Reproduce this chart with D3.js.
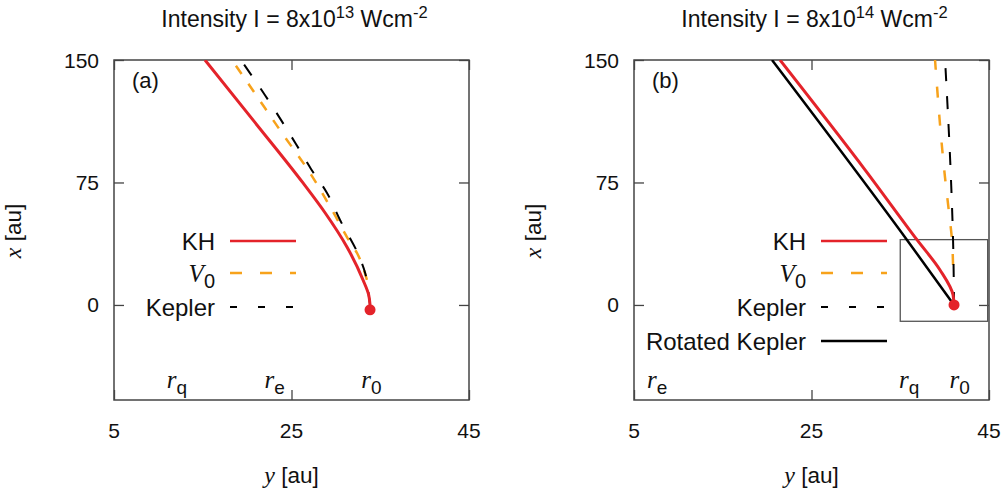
<!DOCTYPE html>
<html>
<head>
<meta charset="utf-8">
<script src="https://cdn.jsdelivr.net/npm/d3@7"></script>
<style>
  html, body { margin: 0; padding: 0; background: #fff; }
  svg { display: block; font-family: "Liberation Sans", Arial, sans-serif; }
</style>
</head>
<body>
<svg id="chart" width="1008" height="493"></svg>
<script>
// Axis ticks
const yTicks = [5, 25, 45];      // horizontal axis, y [au]
const xTicks = [0, 75, 150];     // vertical axis, x [au]

// Panel titles (exponents of intensity)
const titleExp = ["13", "14"];
const panelTags = ["(a)", "(b)"];

// Panel (a): I = 8x10^13 W/cm^2 — trajectories as (y, x) pairs in au
const khA_y  = [15.25, 20.7, 26.3, 28.8, 31.25, 33.06, 33.7, 33.85];
const khA_x  = [150, 113, 74.7, 56.3, 35.5, 15.3, 6.1, 0];
const v0A_y  = [18.3, 21.0, 23.93, 26.86, 29.68, 31.25, 32.38, 33.5];
const v0A_x  = [150, 128.6, 105.3, 82.7, 57.0, 41.6, 31.8, 15.3];
const kepA_y = [19.3, 22.0, 25.5, 27.2, 29.0, 30.47, 32.4, 33.3, 33.73, 33.85];
const kepA_x = [150, 128.6, 98.6, 83.3, 68.6, 52.0, 32.4, 19.6, 4.9, 0];
const startA = [33.85, -3];

// Panel (b): I = 8x10^14 W/cm^2
const khB_y  = [21.45, 31.14, 36.9, 39.48, 40.95, 41.06];
const khB_x  = [150, 82, 39.8, 21.4, 6.1, 0];
const v0B_y  = [38.92, 40.05, 40.5, 40.83, 40.95];
const v0B_x  = [150, 77.8, 56.3, 39.8, 24.5];
const kepB_y = [40.05, 40.73, 40.95, 41.06];
const kepB_x = [150, 75, 39.8, 0];
const rotB_y = [20.55, 35.76, 41.06];
const rotB_x = [150, 39.8, 0];
const startB = [41.06, 0];
// zoom box around the start point: y range, x range
const boxB_y = [35, 44.85];
const boxB_x = [-10, 40];

// Radius markers along the bottom of each panel
const rNamesA = ["q", "e", "0"];
const rPosA   = [12.1, 23.1, 34.0];
const rNamesB = ["e", "q", "0"];
const rPosB   = [7.6, 36.0, 41.7];

const legendA = ["KH", "V0", "Kepler"];
const legendB = ["KH", "V0", "Kepler", "Rotated Kepler"];

const RED = "#e4232a", ORANGE = "#f7a21b", BLACK = "#000", FRAME = "#444";
const TEXT = "#111";
const SERIF = "Liberation Serif, serif";

const svg = d3.select("#chart");
const zip = (a, b) => a.map((v, i) => [v, b[i]]);

const styles = {
  KH:    { stroke: RED,    width: 3,   legendDash: null },
  V0:    { stroke: ORANGE, width: 2.5, legendDash: "12,18" },
  Kepler:{ stroke: BLACK,  width: 2,   legendDash: "7,21" },
  "Rotated Kepler": { stroke: BLACK, width: 2.5, legendDash: null }
};

function drawPanel(opt) {
  const left = opt.left, right = opt.left + 355, top = 60, bottom = 400;
  const sx = d3.scaleLinear().domain([5, 45]).range([left, right]);
  const sy = d3.scaleLinear().domain([-58.2, 150]).range([bottom, top]);
  const g = svg.append("g");

  // clip to plotting frame
  const clipId = "clip" + opt.id;
  svg.append("clipPath").attr("id", clipId)
    .append("rect").attr("x", left).attr("y", top)
    .attr("width", right - left).attr("height", bottom - top);

  // frame
  g.append("rect").attr("x", left).attr("y", top)
    .attr("width", right - left).attr("height", bottom - top)
    .attr("fill", "none").attr("stroke", FRAME).attr("stroke-width", 1.5);

  // ticks (inside, mirrored on all four sides)
  const tl = 10;
  const axB = d3.axisBottom(sx).tickValues(yTicks).tickSize(-tl).tickFormat("");
  const axT = d3.axisTop(sx).tickValues(yTicks).tickSize(-tl).tickFormat("");
  const axL = d3.axisLeft(sy).tickValues(xTicks).tickSize(-tl).tickFormat("");
  const axR = d3.axisRight(sy).tickValues(xTicks).tickSize(-tl).tickFormat("");
  [[axB, `translate(0,${bottom})`], [axT, `translate(0,${top})`],
   [axL, `translate(${left},0)`], [axR, `translate(${right},0)`]].forEach(([ax, tr]) => {
    const a = g.append("g").attr("transform", tr).call(ax);
    a.select(".domain").remove();
    a.selectAll(".tick line").attr("stroke", FRAME).attr("stroke-width", 1.3);
  });

  // tick labels
  g.selectAll(".xl").data(yTicks).enter().append("text")
    .attr("x", d => sx(d)).attr("y", 438).attr("text-anchor", "middle")
    .attr("font-size", 21).attr("fill", TEXT).text(d => d);
  g.selectAll(".yl").data(xTicks).enter().append("text")
    .attr("x", left - 15).attr("y", d => sy(d) + 7.5).attr("text-anchor", "end")
    .attr("font-size", 21).attr("fill", TEXT).text(d => d);

  // axis titles
  const xt = g.append("text").attr("x", (left + right) / 2).attr("y", 483)
    .attr("text-anchor", "middle").attr("font-size", 22.5).attr("fill", TEXT);
  xt.append("tspan").attr("font-family", SERIF).attr("font-style", "italic")
    .attr("font-size", 24).text("y");
  xt.append("tspan").text(" [au]");
  const yt = g.append("text")
    .attr("transform", `translate(${left - 93},231) rotate(-90)`)
    .attr("text-anchor", "middle").attr("font-size", 22.5).attr("fill", TEXT);
  yt.append("tspan").attr("font-family", SERIF).attr("font-style", "italic")
    .attr("font-size", 24).text("x");
  yt.append("tspan").text(" [au]");

  // title
  const tt = g.append("text").attr("x", (left + right) / 2 + 3).attr("y", 27)
    .attr("text-anchor", "middle").attr("font-size", 23).attr("fill", TEXT);
  tt.append("tspan").text("Intensity I = 8x10");
  tt.append("tspan").attr("font-size", 16.5).attr("dy", -9).text(opt.exp);
  tt.append("tspan").attr("dy", 9).text(" Wcm");
  tt.append("tspan").attr("font-size", 16.5).attr("dy", -9).text("-2");

  // panel tag
  g.append("text").attr("x", left + 18).attr("y", 88).attr("font-size", 22)
    .attr("fill", TEXT).text(opt.tag);

  // radius markers
  opt.rNames.forEach((n, i) => {
    const t = g.append("text").attr("x", sx(opt.rPos[i])).attr("y", 388)
      .attr("text-anchor", "middle").attr("fill", TEXT);
    t.append("tspan").attr("font-family", SERIF)
      .attr("font-style", "italic").attr("font-size", 25).text("r");
    t.append("tspan").attr("font-size", 19).attr("dy", 6).text(n);
  });

  // zoom box
  if (opt.box) {
    g.append("rect")
      .attr("x", sx(opt.box[0][0])).attr("y", sy(opt.box[1][1]))
      .attr("width", sx(opt.box[0][1]) - sx(opt.box[0][0]))
      .attr("height", sy(opt.box[1][0]) - sy(opt.box[1][1]))
      .attr("fill", "none").attr("stroke", "#555").attr("stroke-width", 1.3);
  }

  // legend
  const rows = [241, 273, 307, 341];
  const lx0 = opt.legendX, lx1 = opt.legendX + 66;
  opt.legend.forEach((name, i) => {
    const st = styles[name];
    const y = rows[i];
    const t = g.append("text").attr("x", lx0 - 15).attr("y", y + 8.5)
      .attr("text-anchor", "end").attr("font-size", 24).attr("fill", TEXT);
    if (name === "V0") {
      t.append("tspan").attr("font-family", SERIF)
        .attr("font-style", "italic").attr("font-size", 25).text("V");
      t.append("tspan").attr("font-size", 20).attr("dy", 6).text("0");
    } else {
      t.text(name);
    }
    g.append("line").attr("x1", lx0).attr("x2", lx1).attr("y1", y).attr("y2", y)
      .attr("stroke", st.stroke).attr("stroke-width", name === "KH" ? 2.5 : st.width)
      .attr("stroke-dasharray", st.legendDash);
  });

  // trajectories
  const line = d3.line().x(d => sx(d[0])).y(d => sy(d[1])).curve(d3.curveMonotoneY);
  const cg = g.append("g").attr("clip-path", `url(#${clipId})`);
  opt.series.forEach(s => {
    const st = styles[s.name];
    cg.append("path").datum(zip(s.y, s.x).slice().reverse())
      .attr("d", line).attr("fill", "none")
      .attr("stroke", st.stroke).attr("stroke-width", st.width)
      .attr("stroke-dasharray", s.dash || null).attr("stroke-linejoin", "round");
  });

  // start point
  g.append("circle").attr("cx", sx(opt.start[0])).attr("cy", sy(opt.start[1]))
    .attr("r", 5.5).attr("fill", RED);
}

drawPanel({
  id: "a", left: 114, tag: panelTags[0], exp: titleExp[0],
  rNames: rNamesA, rPos: rPosA, legend: legendA, legendX: 230,
  start: startA, box: null,
  series: [
    { name: "V0", y: v0A_y, x: v0A_x, dash: "10,12" },
    { name: "Kepler", y: kepA_y, x: kepA_x, dash: "13,16" },
    { name: "KH", y: khA_y, x: khA_x }
  ]
});

drawPanel({
  id: "b", left: 634, tag: panelTags[1], exp: titleExp[1],
  rNames: rNamesB, rPos: rPosB, legend: legendB, legendX: 821,
  start: startB, box: [boxB_y, boxB_x],
  series: [
    { name: "Rotated Kepler", y: rotB_y, x: rotB_x },
    { name: "V0", y: v0B_y, x: v0B_x, dash: "11,17" },
    { name: "Kepler", y: kepB_y, x: kepB_x, dash: "13,15" },
    { name: "KH", y: khB_y, x: khB_x }
  ]
});
</script>
</body>
</html>
